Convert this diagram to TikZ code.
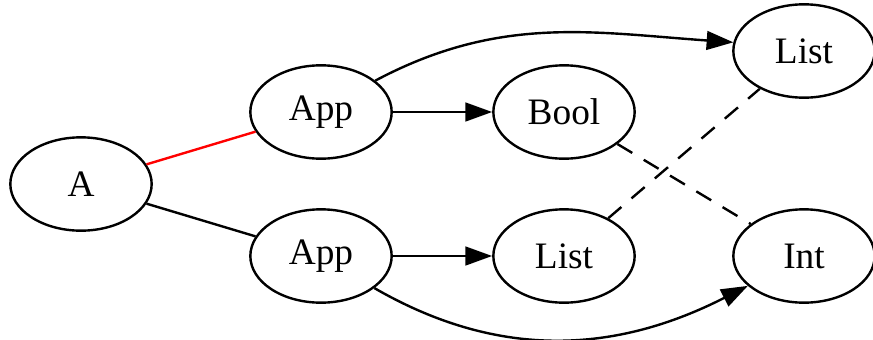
\documentclass[tikz,border=0pt]{standalone}
\usepackage{fontspec}
\setmainfont{Liberation Serif}
\usetikzlibrary{arrows.meta,shapes.geometric}
\begin{document}
\begin{tikzpicture}[x=0.375pt,y=-0.375pt,
  gnode/.style={ellipse,draw,line width=0.9pt,minimum width=53pt,minimum height=35pt,inner sep=0pt,font=\fontsize{14}{16}\selectfont},
  edge/.style={line width=0.9pt},
  arr/.style={edge,-{Triangle[length=10pt,width=7pt]}},
  dsh/.style={edge,dash pattern=on 6.5pt off 5pt}]
\useasboundingbox (0,0) rectangle (873,339);
\node[gnode] (a) at (81,184) {A};
\node[gnode] (app1) at (321,112) {App};
\node[gnode] (app2) at (321,256) {App};
\node[gnode] (bool) at (564,112) {Bool};
\node[gnode] (list1) at (564,256) {List};
\node[gnode] (list2) at (804,51) {List};
\node[gnode] (int) at (804,256) {Int};
\draw[edge,red] (a) -- (app1);
\draw[edge] (a) -- (app2);
\draw[arr] (app1) -- (bool);
\draw[arr] (app2) -- (list1);
\draw[arr] (app1.30) to[out=28,in=176] (list2.173);
\draw[arr] (app2.-31) to[out=-30,in=207] (int.208);
\draw[dsh] (bool) -- (int);
\draw[dsh] (list1) -- (list2);
\end{tikzpicture}
\end{document}
